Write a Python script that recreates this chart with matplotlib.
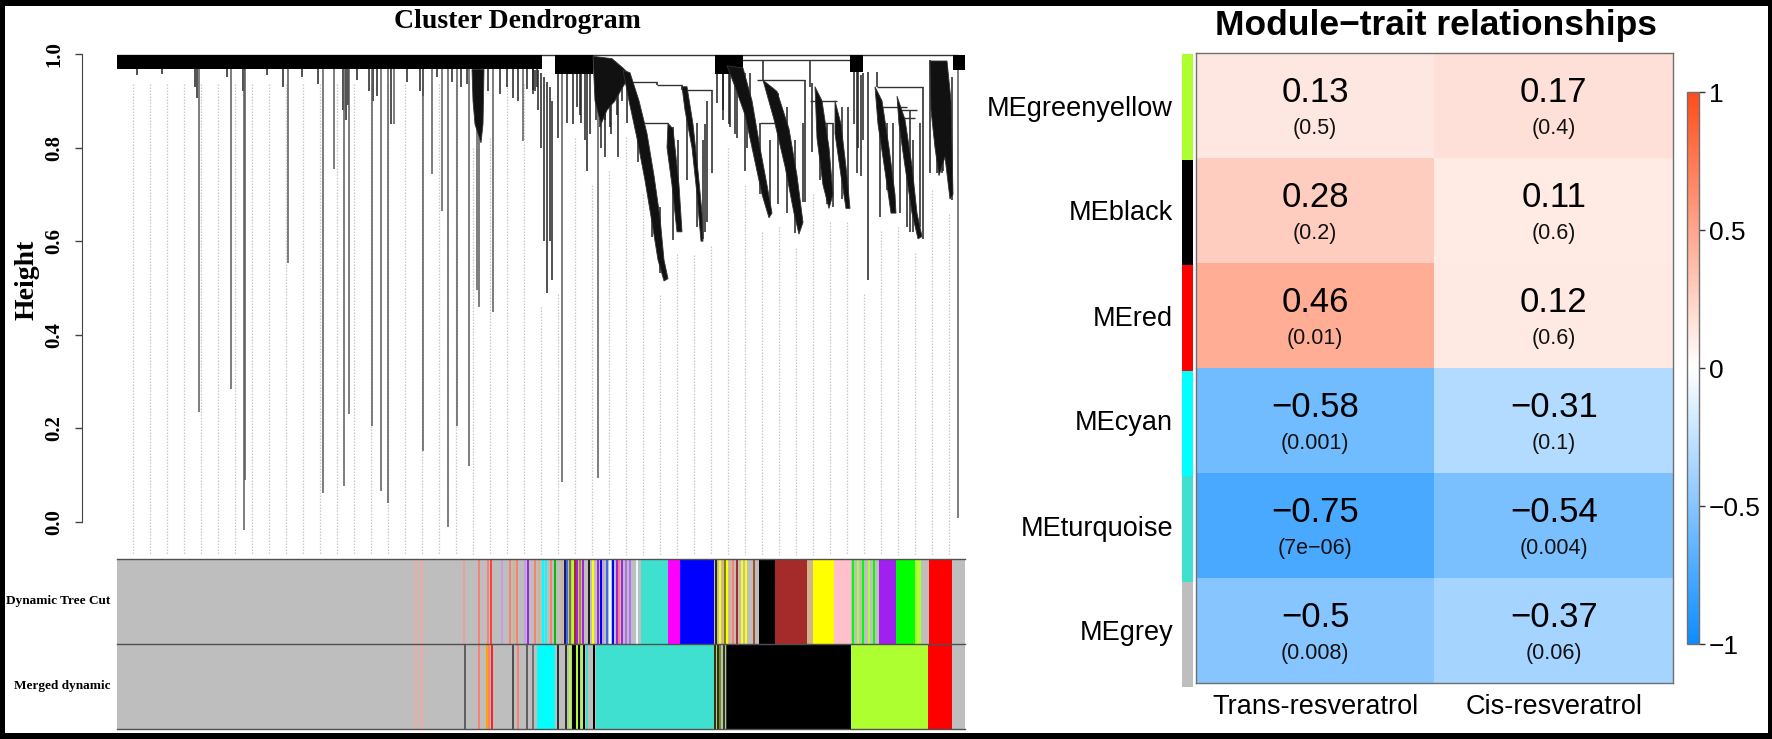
import numpy as np
import matplotlib
matplotlib.use('Agg')
import matplotlib.pyplot as plt
from matplotlib.colors import LinearSegmentedColormap, Normalize
from matplotlib.patches import Rectangle, Polygon
from matplotlib.collections import LineCollection
from matplotlib.cm import ScalarMappable

# ---------------- data ----------------
modules = ['MEgreenyellow', 'MEblack', 'MEred', 'MEcyan', 'MEturquoise', 'MEgrey']
module_colors = ['#ADFF2F', '#000000', '#FF0000', '#00FFFF', '#40E0D0', '#BEBEBE']
traits = ['Trans-resveratrol', 'Cis-resveratrol']
cor_trans = [0.13, 0.28, 0.46, -0.58, -0.75, -0.5]
cor_cis = [0.17, 0.11, 0.12, -0.31, -0.54, -0.37]
p_trans = ['0.5', '0.2', '0.01', '0.001', '7e-06', '0.008']
p_cis = ['0.4', '0.6', '0.6', '0.1', '0.004', '0.06']
cbar_ticks = [-1, -0.5, 0, 0.5, 1]

# dendrogram (leaf position 0..848, height)
N_LEAF = 848
height_ticks = [0.0, 0.2, 0.4, 0.6, 0.8, 1.0]
top_merge_h = 0.998
dense_blocks = [(0, 425, 0.967), (438, 476, 0.957), (598, 626, 0.958),
                (733, 746, 0.962), (836, 848, 0.966)]
drips = [(78, .93), (80, .905), (126, .92), (166, .93), (201, .935), (226, .88),
         (229, .86), (231, .89), (252, .92), (256, .90), (260, .91), (274, .85),
         (303, .92), (306, .91), (350, .935), (371, .92), (383, .915), (396, .905),
         (401, .90), (416, .915), (420, .93), (20, .955), (45, .958), (110, .95),
         (150, .955), (185, .95), (240, .945), (290, .94), (320, .95), (335, .94),
         (344, .93), (390, .93), (410, .925)]
long_drops = [(82, .235), (114, .284), (127, -.017), (128, .09), (171, .553),
              (206, .061), (217, .754), (227, .077), (232, .231), (255, .205),
              (264, .066), (271, .04), (277, .85), (306, .152), (315, .744),
              (325, .665), (331, -.01), (340, .205), (352, .12), (360, .496),
              (362, .46), (376, .449), (406, .814), (445, .086), (481, .093),
              (841, .008)]
cluster_lines = [(418, .965, .92), (421, .965, .88), (424, .96, .80), (427, .95, .60),
                 (430, .94, .49), (433, .93, .60), (435, .90, .517),
                 (441, .998, .82),
                 (456, .957, .85), (463, .957, .87), (470, .957, .75), (473, .957, .83),
                 (479, .96, .86), (484, .95, .80), (488, .93, .78), (494, .92, .83),
                 (500, .93, .87), (505, .95, .90),
                 (540, .94, .933), (565, .933, .923),
                 (595, .923, .745), (590, .90, .64), (588, .85, .62),
                 (600, .958, .895), (606, .958, .88), (612, .958, .85), (618, .958, .83),
                 (630, .93, .80), (688, .944, .683), (693, .987, .93), (646, .987, .944),
                 (737, .962, .85), (741, .962, .80), (744, .955, .74), (751, .962, .517),
                 (760, .962, .93), (806, .93, .605), (793, .88, .62),
                 (820, .95, .745), (826, .95, .75), (835, .95, .688),
                 (416, .998, .923), (450, .987, .852), (460, .987, .887), (464, .987, .852),
                 (468, .959, .816), (483, .987, .845), (488, .987, .86), (493, .987, .845),
                 (501, .959, .78), (510, .959, .852), (521, .887, .77), (535, .745, .61),
                 (543, .674, .531), (556, .845, .602), (561, .816, .63), (570, .923, .73),
                 (580, .852, .63), (586, .816, .605), (606, .987, .86), (613, .973, .845),
                 (620, .973, .82), (628, .959, .75), (633, .959, .84), (643, .852, .70),
                 (653, .816, .66), (661, .916, .68), (670, .887, .66), (678, .816, .617),
                 (686, .852, .683), (695, .937, .79), (703, .90, .73), (710, .852, .68),
                 (716, .852, .674), (725, .887, .69), (731, .887, .674), (740, .980, .745),
                 (746, .959, .816), (763, .887, .652), (770, .852, .709), (776, .852, .674),
                 (783, .852, .66), (790, .816, .63), (796, .816, .62), (803, .852, .63),
                 (813, .987, .745), (825, .973, .745), (830, .973, .76)]
h_lines = [(0, 841, .998), (513, 540, .94), (540, 565, .933), (565, 595, .923),
           (526, 551, .852), (613, 733, .987), (640, 688, .944), (693, 720, .90),
           (760, 806, .93), (783, 800, .88), (781, 798, .863), (700, 716, .852),
           (763, 790, .887), (643, 661, .852)]
cluster_shapes = [
    [(355, .967), (367, .967), (366, .85), (364, .81), (361, .83), (358, .85), (356, .90)],
    [(476, .995), (495, .99), (506, .97), (513, .955), (506, .93), (498, .90), (490, .88), (484, .85), (478, .90)],
    [(506, .965), (513, .96), (522, .90), (530, .83), (537, .74), (543, .65), (547, .56), (551, .52),
     (547, .515), (541, .56), (535, .64), (528, .73), (520, .82), (512, .90)],
    [(551, .852), (556, .84), (562, .72), (565, .62), (560, .62), (555, .72), (550, .80)],
    [(565, .93), (570, .93), (576, .85), (581, .75), (585, .66), (586, .60), (584, .60), (580, .70), (575, .80), (568, .88)],
    [(610, .975), (626, .97), (635, .90), (643, .80), (650, .72), (655, .66), (652, .65), (645, .70), (637, .78), (628, .87), (618, .93)],
    [(646, .944), (660, .92), (672, .84), (680, .74), (686, .64), (682, .615), (677, .66), (668, .76), (657, .86)],
    [(698, .93), (705, .90), (712, .80), (716, .70), (712, .67), (706, .72), (700, .82)],
    [(718, .90), (724, .85), (730, .74), (733, .67), (729, .67), (724, .74), (718, .83)],
    [(758, .93), (765, .90), (772, .80), (778, .70), (779, .66), (774, .66), (768, .75), (761, .85)],
    [(780, .91), (788, .86), (795, .76), (800, .66), (805, .61), (801, .605), (795, .66), (788, .76), (782, .85)],
    [(813, .985), (830, .985), (834, .90), (836, .70), (833, .69), (828, .78), (822, .74), (818, .80), (814, .88)],
]

# module colour rows (leaf position ranges)
row_labels = ['Dynamic Tree Cut', 'Merged dynamic']
dyn_blocks = [(524, 551, '#40E0D0'), (551, 563, '#FF00FF'), (563, 597, '#0000FF'),
              (642, 658, '#000000'), (658, 690, '#A52A2A'), (690, 696, '#D2B48C'),
              (696, 717, '#FFFF00'), (717, 734, '#FFC0CB'), (762, 779, '#A020F0'),
              (779, 798, '#00FF00'), (798, 804, '#ADFF2F'), (812, 835, '#FF0000')]
dyn_stripes = [(299, '#F4A8A0'), (305, '#F4A8A0'), (347, '#E8A098'), (362, '#FA8072'),
               (371, '#FA8072'), (374, '#FF4040'), (385, '#C0A0E0'), (393, '#FA8072'),
               (397, '#D2B48C'), (400, '#FA8072'), (408, '#C0A0E0'), (411, '#A020F0'),
               (418, '#FA8072'), (422, '#D2B48C'), (426, '#00FFFF'), (429, '#00FFFF'),
               (434, '#FA8072'), (438, '#00C000'), (445, '#D2B48C'), (448, '#191970'),
               (450, '#4169E1'), (453, '#808000'), (456, '#ADFF2F'), (458, '#A52A2A'),
               (460, '#A020F0'), (463, '#B8860B'), (466, '#A020F0'), (472, '#202020'),
               (476, '#FFFF00'), (481, '#A020F0'), (484, '#0000FF'), (486, '#C0A0E0'),
               (490, '#4169E1'), (493, '#E0FFFF'), (496, '#0000FF'), (500, '#A020F0'),
               (502, '#FA8072'), (505, '#A020F0'), (509, '#B070F0'), (513, '#B070F0'),
               (520, '#E0FFFF'), (599, '#303000'), (603, '#FFFF00'), (606, '#D2B48C'),
               (608, '#808000'), (610, '#FFFF00'), (613, '#D2B48C'), (616, '#FA8072'),
               (620, '#A52A2A'), (625, '#FFFF00'), (629, '#FFFF00'), (637, '#A0522D'),
               (736, '#00FF00'), (741, '#ADFF2F'), (746, '#00FF00'), (752, '#ADFF2F'),
               (757, '#00FF00')]
mrg_blocks = [(420, 438, '#00FFFF'), (479, 597, '#40E0D0'), (610, 734, '#000000'),
              (734, 811, '#ADFF2F'), (811, 835, '#FF0000')]
mrg_stripes = [(299, '#F4A8A0'), (305, '#F4A8A0'), (348, '#606060'), (362, '#FA8072'),
               (370, '#FFA500'), (372, '#FA8072'), (375, '#FF2020'), (396, '#505050'),
               (401, '#FA8072'), (410, '#606060'), (416, '#707070'), (441, '#303030'),
               (449, '#303030'), (453, '#ADFF2F'), (456, '#000000'), (458, '#000000'),
               (460, '#ADFF2F'), (462, '#000000'), (465, '#ADFF2F'), (467, '#000000'),
               (470, '#40E0D0'), (477, '#000000'), (493, '#30B0A0'), (598, '#333300'),
               (601, '#333300'), (603, '#6B8E23'), (607, '#2F3F10'), (610, '#2F3F10'),
               (632, '#4B5A20'), (692, '#4B5A20'), (755, '#7FBF20')]

GREY = '#BEBEBE'

# ---------------- figure ----------------
W, H = 1772, 739
fig = plt.figure(figsize=(W / 100, H / 100), dpi=100)
fig.patch.set_facecolor('white')


def fx(px):
    return px / W


def fy(py):
    return 1 - py / H


SERIF = ['Liberation Serif', 'DejaVu Serif']
SANS = ['Liberation Sans', 'DejaVu Sans']

# ---------- dendrogram ----------
ax_d = fig.add_axes([fx(117), fy(556), fx(848), (556 - 50) / H])
ax_d.set_xlim(0, N_LEAF)
ax_d.set_ylim(-0.0726, 1.0085)
for s in ['top', 'right', 'bottom']:
    ax_d.spines[s].set_visible(False)
ax_d.spines['left'].set_position(('outward', 25))
ax_d.spines['left'].set_bounds(0, 1)
ax_d.spines['left'].set_color('#444444')
ax_d.set_xticks([])
ax_d.set_yticks(height_ticks)
ax_d.set_yticklabels([f'{t:.1f}' for t in height_ticks], rotation=90, va='center',
                     fontsize=15, fontweight='bold', family=SERIF)
ax_d.tick_params(axis='y', length=5, width=1, color='#444444', pad=8)
ax_d.patch.set_alpha(0)

# guide lines (dotted), starting just under the local cluster bottoms
cluster_bottoms = [(p, b) for (p, t, b) in cluster_lines] + \
                  [v for shp in cluster_shapes for v in shp]
guides = np.arange(16, N_LEAF + 2, 17)
g_segs = []
for g in guides:
    near = [b for (p, b) in cluster_bottoms if abs(p - g) < 8]
    top = min([0.935] + [b - 0.03 for b in near])
    g_segs.append([(g, top), (g, -0.07)])
ax_d.add_collection(LineCollection(g_segs, colors='#C8C8C8', linewidths=0.9,
                                   linestyles=(0, (1.2, 1.2)), zorder=1))

for (p0, p1, hl) in dense_blocks:
    ax_d.add_patch(Rectangle((p0, hl), p1 - p0, top_merge_h - hl, color='black', lw=0, zorder=3))
for shp in cluster_shapes:
    ax_d.add_patch(Polygon(shp, closed=True, facecolor='#111111', edgecolor='#333333',
                           lw=0.6, zorder=3))
ax_d.add_collection(LineCollection([[(p, 0.967), (p, b)] for p, b in drips],
                                   colors='#333333', linewidths=1.2, zorder=2))
ax_d.add_collection(LineCollection([[(p, 0.967), (p, b)] for p, b in long_drops],
                                   colors='#5A5A5A', linewidths=1.1, zorder=2))
ax_d.add_collection(LineCollection([[(p, t), (p, b)] for p, t, b in cluster_lines],
                                   colors='#222222', linewidths=1.1, zorder=2))
ax_d.add_collection(LineCollection([[(p0, h), (p1, h)] for p0, p1, h in h_lines],
                                   colors='#333333', linewidths=1.0, zorder=2))

fig.text(fx(517), fy(28), 'Cluster Dendrogram', ha='center', va='baseline',
         fontsize=20, fontweight='bold', family=SERIF)
fig.text(fx(27), fy(280), 'Height', ha='center', va='center', rotation=90,
         fontsize=20, fontweight='bold', family=SERIF)

# ---------- module colour rows ----------
ax_c = fig.add_axes([fx(117), fy(729), fx(848), (729 - 559) / H])
ax_c.set_xlim(0, N_LEAF)
ax_c.set_ylim(2, 0)
ax_c.axis('off')
for r, (blocks, stripes) in enumerate([(dyn_blocks, dyn_stripes), (mrg_blocks, mrg_stripes)]):
    ax_c.add_patch(Rectangle((0, r), N_LEAF, 1, color=GREY, lw=0))
    for p, c in stripes:
        ax_c.add_patch(Rectangle((p - 1.2, r), 2.4, 1, color=c, lw=0))
    for p0, p1, c in blocks:
        ax_c.add_patch(Rectangle((p0, r), p1 - p0, 1, color=c, lw=0))
for yb in [0, 1, 2]:
    ax_c.plot([0, N_LEAF], [yb, yb], color='#505050', lw=1.0, clip_on=False)
for r, lab in enumerate(row_labels):
    fig.text(fx(110), fy(601 + 85 * r), lab, ha='right', va='center',
             fontsize=9.5, fontweight='bold', family=SERIF)

# ---------- module-trait heatmap ----------
cmap = LinearSegmentedColormap.from_list('bwr_wgcna',
                                         [(0.05, 0.55, 1.0), (1, 1, 1), (1.0, 0.3, 0.1)])
mat = np.array([cor_trans, cor_cis]).T
pv = np.array([p_trans, p_cis]).T

ax_h = fig.add_axes([fx(1196), fy(683), fx(1673 - 1196), (683 - 53) / H])
ax_h.imshow(mat, cmap=cmap, vmin=-1, vmax=1, aspect='auto', interpolation='nearest')
for s in ax_h.spines.values():
    s.set_color('#707070')
    s.set_linewidth(1.0)


def mfmt(s):
    return s.replace('-', '\u2212')


for i in range(mat.shape[0]):
    for j in range(mat.shape[1]):
        ax_h.text(j, i - 0.12, mfmt(f'{mat[i, j]:g}'), ha='center', va='center',
                  fontsize=25, family=SANS, color='black')
        ax_h.text(j, i + 0.215, mfmt(f'({pv[i, j]})'), ha='center', va='center',
                  fontsize=15.5, family=SANS, color='#111111')
ax_h.set_yticks(range(len(modules)))
ax_h.set_yticklabels(modules, fontsize=19.5, family=SANS)
ax_h.set_xticks(range(len(traits)))
ax_h.set_xticklabels(traits, fontsize=19.5, family=SANS)
ax_h.tick_params(axis='y', length=0, pad=16.5)
ax_h.tick_params(axis='x', length=0, pad=8)

# side colour bar
ax_s = fig.add_axes([fx(1182), fy(687), fx(11), (687 - 54) / H])
ax_s.set_xlim(0, 1)
ax_s.set_ylim(len(modules), 0)
ax_s.axis('off')
for i, c in enumerate(module_colors):
    ax_s.add_patch(Rectangle((0, i), 1, 1, color=c, lw=0))

fig.text(fx(1436), fy(25), 'Module\u2212trait relationships', ha='center', va='center',
         fontsize=25.5, fontweight='bold', family=SANS)

# colour bar
cax = fig.add_axes([fx(1687), fy(644), fx(12), (644 - 92) / H])
sm = ScalarMappable(norm=Normalize(-1, 1), cmap=cmap)
cb = fig.colorbar(sm, cax=cax, ticks=cbar_ticks)
cb.ax.set_yticklabels([mfmt(f'{t:g}') for t in cbar_ticks], family=SANS, fontsize=19)
cb.ax.tick_params(length=4, width=1, pad=3, color='#333333')
cb.outline.set_edgecolor('#707070')
cb.outline.set_linewidth(1.0)

# ---------- black frame ----------
for (x0, y0, w, h) in [(0, 0, W, 6), (0, H - 6, W, 6), (0, 0, 5, H), (W - 4, 0, 4, H)]:
    fig.add_artist(Rectangle((fx(x0), fy(y0 + h)), w / W, h / H, transform=fig.transFigure,
                             color='black', lw=0, zorder=10))

fig.savefig('out.png', dpi=100)
